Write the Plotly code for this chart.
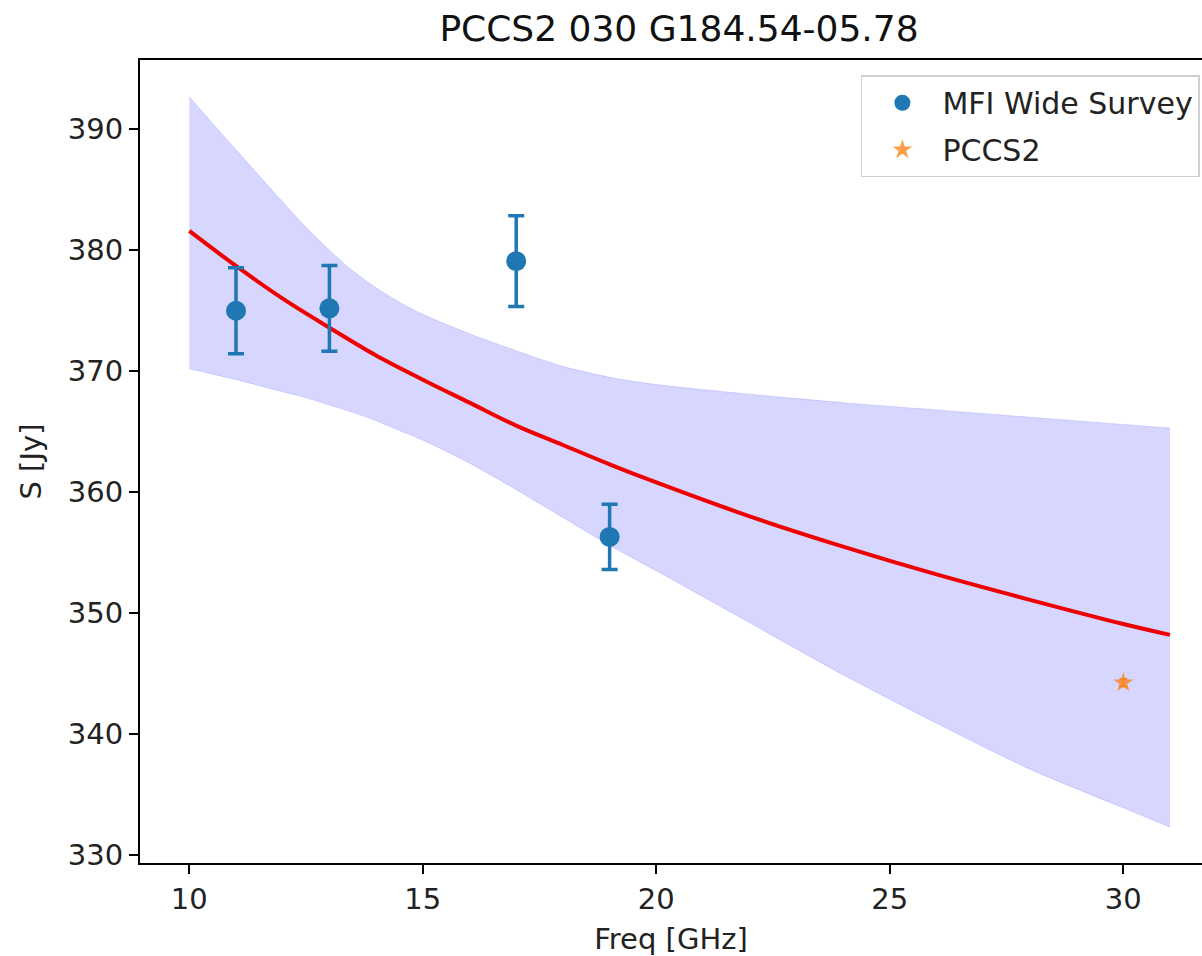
import plotly.graph_objects as go

# MFI Wide Survey measurements
mfi_freq = [11, 13, 17, 19]
mfi_flux = [375.0, 375.2, 379.1, 356.3]
mfi_err = [3.55, 3.55, 3.75, 2.7]

# PCCS2 measurement
pccs_freq = [30]
pccs_flux = [344.25]
pccs_err = [0.3]

# Fitted model curve
fit_freq = [10, 11, 12, 13, 14, 15, 16, 17, 18, 19, 20, 22, 24, 26, 28, 30, 31]
fit_flux = [381.6, 378.7, 376.0, 373.6, 371.3, 369.3, 367.4, 365.5, 363.9, 362.3,
            360.8, 358.0, 355.5, 353.2, 351.1, 349.1, 348.2]

# Uncertainty band
band_freq = [10, 11, 12, 12.5, 13, 13.5, 14, 14.5, 15, 16, 17, 18, 19, 20, 22, 24, 26, 28, 30, 31]
band_upper = [392.7, 388.3, 384.0, 381.9, 380.0, 378.3, 376.9, 375.7, 374.7, 373.1, 371.7,
              370.4, 369.5, 368.9, 368.1, 367.4, 366.8, 366.2, 365.6, 365.3]
band_lower = [370.2, 369.3, 368.3, 367.8, 367.2, 366.6, 365.9, 365.1, 364.3, 362.4, 360.2,
              357.9, 355.6, 353.5, 349.2, 344.9, 340.9, 337.1, 333.9, 332.3]

title_text = "PCCS2 030 G184.54-05.78"
x_label = "Freq [GHz]"
y_label = "S [Jy]"
x_ticks = [10, 15, 20, 25, 30]
y_ticks = [330, 340, 350, 360, 370, 380, 390]

FONT = "DejaVu Sans"
TXT = "#222222"

fig = go.Figure()

fig.add_trace(go.Scatter(
    x=band_freq, y=band_lower,
    mode="lines",
    line=dict(color="rgba(0,0,255,0.12)", width=1, shape="spline", smoothing=0.8),
    showlegend=False, hoverinfo="skip",
))
fig.add_trace(go.Scatter(
    x=band_freq, y=band_upper,
    mode="lines",
    fill="tonexty",
    fillcolor="rgba(0,0,255,0.16)",
    line=dict(color="rgba(0,0,255,0.12)", width=1, shape="spline", smoothing=0.8),
    showlegend=False, hoverinfo="skip",
))

fig.add_trace(go.Scatter(
    x=fit_freq, y=fit_flux,
    mode="lines",
    line=dict(color="#ee0000", width=4, shape="spline"),
    showlegend=False,
))

fig.add_trace(go.Scatter(
    x=mfi_freq, y=mfi_flux,
    mode="markers",
    name="MFI Wide Survey",
    legendgroup="a",
    marker=dict(color="#1f77b4", size=20, symbol="circle"),
    error_y=dict(type="data", array=mfi_err, visible=True,
                 color="#1f77b4", thickness=3.5, width=8),
))

fig.add_trace(go.Scatter(
    x=pccs_freq, y=pccs_flux,
    mode="markers",
    name="PCCS2",
    legendgroup="b",
    marker=dict(color="rgba(255,127,14,0.75)", size=15, symbol="star"),
    error_y=dict(type="data", array=pccs_err, visible=True,
                 color="rgba(255,127,14,0.75)", thickness=2, width=4),
))

fig.update_layout(
    width=1202, height=956,
    margin=dict(l=140, r=0, t=60, b=93),
    paper_bgcolor="white",
    plot_bgcolor="white",
    font=dict(family=FONT, color=TXT, size=28),
    title=dict(text=title_text, x=679 / 1202, xanchor="center", xref="container",
               y=1 - 28 / 956, yanchor="middle", yref="container",
               font=dict(family=FONT, size=36, color="#111111")),
    legend=dict(
        x=0.998, xanchor="right", y=0.981, yanchor="top",
        bgcolor="rgba(255,255,255,0.85)",
        bordercolor="#d0d0d0", borderwidth=1.5,
        font=dict(family=FONT, size=30, color=TXT),
        itemwidth=70,
        tracegroupgap=5,
    ),
    xaxis=dict(
        range=[8.944, 31.685],
        tickvals=x_ticks,
        ticktext=[str(v) for v in x_ticks],
        showgrid=False, zeroline=False,
        showline=True, linecolor="black", linewidth=2, mirror=True,
        ticks="outside", ticklen=9, tickwidth=2, tickcolor="black",
        tickfont=dict(family=FONT, size=29, color=TXT),
        title=dict(text=x_label, font=dict(family=FONT, size=29, color=TXT), standoff=14),
    ),
    yaxis=dict(
        range=[329.34, 395.73],
        tickvals=y_ticks,
        ticktext=[str(v) for v in y_ticks],
        showgrid=False, zeroline=False,
        showline=True, linecolor="black", linewidth=2, mirror=False,
        ticks="outside", ticklen=9, tickwidth=2, tickcolor="black",
        tickfont=dict(family=FONT, size=29, color=TXT),
        title=dict(text=y_label, font=dict(family=FONT, size=29, color=TXT), standoff=18),
    ),
)

fig.write_html("out.html")
